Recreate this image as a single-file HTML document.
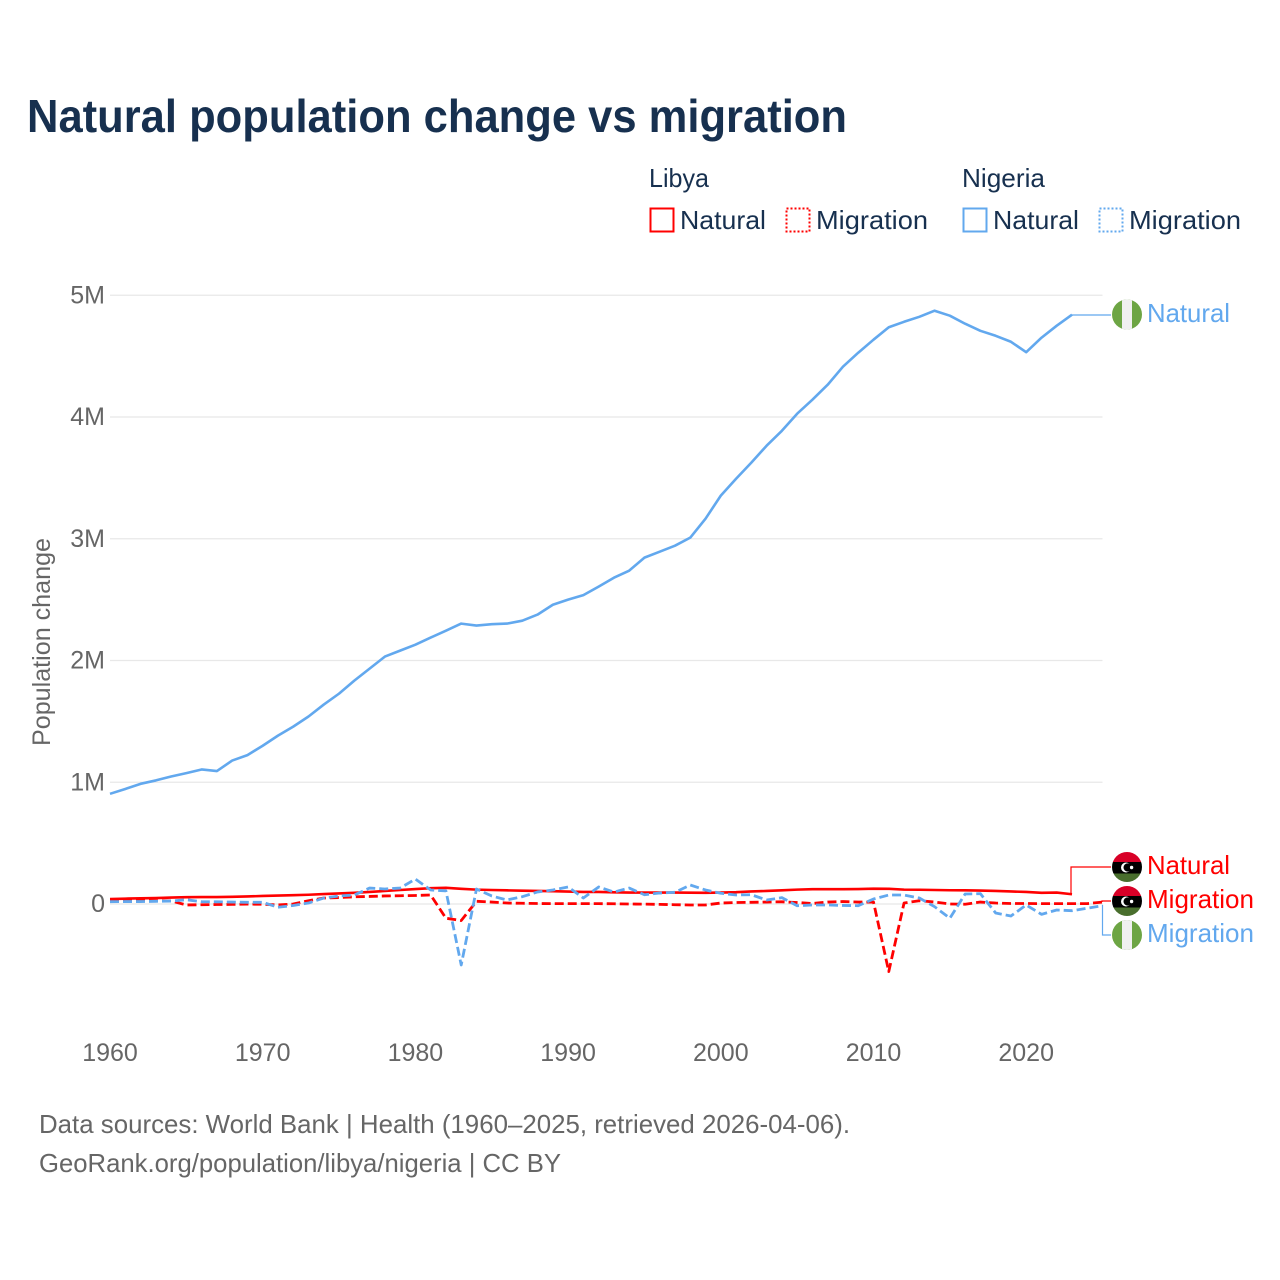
<!DOCTYPE html>
<html lang="en">
<head>
<meta charset="utf-8">
<title>Natural population change vs migration</title>
<style>
html,body{margin:0;padding:0;background:#fff;}
svg{display:block;}
text{font-family:"Liberation Sans",sans-serif;}
</style>
</head>
<body>
<svg id="chart" xmlns="http://www.w3.org/2000/svg" width="1280" height="1280" viewBox="0 0 1280 1280">
<defs>
<clipPath id="clip-a"><circle cx="1127" cy="314.5" r="15"/></clipPath>
<clipPath id="clip-b"><circle cx="1127" cy="867" r="15"/></clipPath>
<clipPath id="clip-c"><circle cx="1127" cy="901" r="15"/></clipPath>
<clipPath id="clip-d"><circle cx="1127" cy="935" r="15"/></clipPath>
</defs>
<rect width="1280" height="1280" fill="#fff"/>
<text x="27" y="132" font-size="46" font-weight="700" fill="#17304f" textLength="820" lengthAdjust="spacingAndGlyphs">Natural population change vs migration</text>

<g font-size="26" fill="#17304f">
<text x="649" y="187" textLength="60" lengthAdjust="spacingAndGlyphs">Libya</text>
<text x="962" y="187" textLength="83" lengthAdjust="spacingAndGlyphs">Nigeria</text>
<rect x="650.5" y="208.5" width="23" height="23" fill="none" stroke="#ff0000" stroke-width="2"/>
<text x="680" y="229" textLength="86" lengthAdjust="spacingAndGlyphs">Natural</text>
<rect x="786.5" y="208.5" width="23" height="23" fill="none" stroke="#ff0000" stroke-width="2" stroke-dasharray="2 2"/>
<text x="816" y="229" textLength="112" lengthAdjust="spacingAndGlyphs">Migration</text>
<rect x="963.5" y="208.5" width="23" height="23" fill="none" stroke="#62a8ee" stroke-width="2"/>
<text x="993" y="229" textLength="86" lengthAdjust="spacingAndGlyphs">Natural</text>
<rect x="1099.5" y="208.5" width="23" height="23" fill="none" stroke="#62a8ee" stroke-width="2" stroke-dasharray="2 2"/>
<text x="1129" y="229" textLength="112" lengthAdjust="spacingAndGlyphs">Migration</text>
</g>

<text transform="translate(50,642) rotate(-90)" text-anchor="middle" font-size="25" fill="#666" textLength="208" lengthAdjust="spacingAndGlyphs">Population change</text>

<g id="grid"></g>
<g id="ticks"></g>

<g fill="none" stroke-width="1.2">
<path d="M1071 315H1111" stroke="#62a8ee"/>
<path d="M1071 894V867H1111" stroke="#ff0000"/>
<path d="M1102 902V901H1111" stroke="#ff0000"/>
<path d="M1102.5 905V935H1111" stroke="#62a8ee"/>
</g>

<g id="series"></g>

<g clip-path="url(#clip-a)">
<rect x="1112" y="299" width="30" height="31" fill="#6da544"/><rect x="1122" y="299" width="10" height="31" fill="#f0f0f0"/>
</g>
<g clip-path="url(#clip-b)">
<rect x="1112" y="852" width="30" height="10" fill="#d80027"/><rect x="1112" y="862" width="30" height="11.5" fill="#000"/><rect x="1112" y="873.5" width="30" height="9.5" fill="#496e2d"/>
<circle cx="1126" cy="867.5" r="5" fill="#fff"/><circle cx="1127.6" cy="867.5" r="4.1" fill="#000"/><circle cx="1131.6" cy="867.5" r="1.7" fill="#fff"/>
</g>
<g clip-path="url(#clip-c)">
<rect x="1112" y="886" width="30" height="10" fill="#d80027"/><rect x="1112" y="896" width="30" height="11.5" fill="#000"/><rect x="1112" y="907.5" width="30" height="9.5" fill="#496e2d"/>
<circle cx="1126" cy="901.5" r="5" fill="#fff"/><circle cx="1127.6" cy="901.5" r="4.1" fill="#000"/><circle cx="1131.6" cy="901.5" r="1.7" fill="#fff"/>
</g>
<g clip-path="url(#clip-d)">
<rect x="1112" y="920" width="30" height="31" fill="#6da544"/><rect x="1122" y="920" width="10" height="31" fill="#f0f0f0"/>
</g>

<g font-size="26">
<text x="1147" y="322" fill="#62a8ee" textLength="83" lengthAdjust="spacingAndGlyphs">Natural</text>
<text x="1147" y="874" fill="#ff0000" textLength="83" lengthAdjust="spacingAndGlyphs">Natural</text>
<text x="1147" y="908" fill="#ff0000" textLength="107" lengthAdjust="spacingAndGlyphs">Migration</text>
<text x="1147" y="942" fill="#62a8ee" textLength="107" lengthAdjust="spacingAndGlyphs">Migration</text>
</g>

<g font-size="26" fill="#666">
<text x="39" y="1133" textLength="811" lengthAdjust="spacingAndGlyphs">Data sources: World Bank | Health (1960–2025, retrieved 2026-04-06).</text>
<text x="39" y="1172" textLength="522" lengthAdjust="spacingAndGlyphs">GeoRank.org/population/libya/nigeria | CC BY</text>
</g>
</svg>
<script>
var firstYear = 1960;
var xTickYears = [1960, 1970, 1980, 1990, 2000, 2010, 2020];
var yTickValues = [0, 1000, 2000, 3000, 4000, 5000];
var yTickLabels = ["0", "1M", "2M", "3M", "4M", "5M"];

// Values in thousands of people, one per year from 1960.
var nigeriaNatural = [905,945,987,1015,1047,1075,1105,1092,1178,1223,1300,1383,1457,1540,1638,1728,1835,1933,2032,2081,2130,2188,2245,2303,2287,2298,2303,2327,2377,2458,2500,2537,2607,2680,2738,2845,2894,2943,3009,3165,3354,3493,3625,3764,3887,4027,4142,4265,4413,4528,4635,4737,4782,4823,4873,4832,4766,4708,4667,4618,4532,4651,4750,4840];
var libyaNatural = [41,44,47,49,53,56,57,57,59,62,66,69,72,76,82,87,92,99,107,115,123,130,133,125,118,115,112,109,107,105,102,99,99,96,94,94,94,94,93,92,94,97,103,107,112,118,122,122,122,123,126,125,118,117,115,113,112,110,107,103,99,92,94,80];
var libyaMigration = [27,27,27,26,25,-8,-6,-4,-3,-1,-2,-8,0,27,49,53,59,62,66,68,70,74,-117,-136,22,16,8,6,4,3,3,3,3,2,0,-1,-3,-6,-8,-8,8,12,14,16,18,12,4,16,20,16,16,-555,8,27,16,0,-2,16,8,4,4,3,3,3,3,16];
var nigeriaMigration = [19,20,20,22,24,35,19,18,16,14,14,-27,-12,8,49,66,74,131,123,131,205,115,108,-501,123,66,33,60,99,115,140,49,140,98,131,76,90,96,156,115,88,74,76,33,52,-14,-8,-8,-12,-14,41,74,74,49,-22,-117,82,85,-74,-99,-8,-85,-49,-55,-35,-14];

var SVG_NS = "http://www.w3.org/2000/svg";
function xScale(year) { return 110 + (year - firstYear) * 15.27; }
function yScale(v) { return 904 - v * 0.12175; }

var gridLayer = document.getElementById("grid");
var tickLayer = document.getElementById("ticks");
var seriesLayer = document.getElementById("series");

yTickValues.forEach(function (v, i) {
  var line = document.createElementNS(SVG_NS, "line");
  line.setAttribute("x1", 110);
  line.setAttribute("x2", 1102.5);
  line.setAttribute("y1", yScale(v));
  line.setAttribute("y2", yScale(v));
  line.setAttribute("stroke", "#e8e8e8");
  line.setAttribute("stroke-width", 1.2);
  
  
  gridLayer.appendChild(line);

  var label = document.createElementNS(SVG_NS, "text");
  label.setAttribute("x", 105);
  label.setAttribute("y", yScale(v) + 8);
  label.setAttribute("text-anchor", "end");
  label.setAttribute("font-size", 25);
  label.setAttribute("fill", "#666");
  label.textContent = yTickLabels[i];
  
  
  tickLayer.appendChild(label);
});

xTickYears.forEach(function (year) {
  var label = document.createElementNS(SVG_NS, "text");
  label.setAttribute("x", xScale(year));
  label.setAttribute("y", 1061);
  label.setAttribute("text-anchor", "middle");
  label.setAttribute("font-size", 25);
  label.setAttribute("fill", "#666");
  label.textContent = String(year);
  
  
  tickLayer.appendChild(label);
});

function drawSeries(values, color, dash, name) {
  var d = values.map(function (v, i) {
    return (i ? "L" : "M") + xScale(firstYear + i).toFixed(2) + " " + yScale(v).toFixed(2);
  }).join("");
  var path = document.createElementNS(SVG_NS, "path");
  path.setAttribute("d", d);
  path.setAttribute("fill", "none");
  path.setAttribute("stroke", color);
  path.setAttribute("stroke-width", dash ? 2.8 : 2.6);
  path.setAttribute("stroke-linejoin", "round");
  if (dash) path.setAttribute("stroke-dasharray", dash);
  
  
  seriesLayer.appendChild(path);
}

drawSeries(nigeriaNatural, "#62a8ee", null, "line-nigeria-natural");
drawSeries(libyaNatural, "#ff0000", null, "line-libya-natural");
drawSeries(libyaMigration, "#ff0000", "9 4", "line-libya-migration");
drawSeries(nigeriaMigration, "#62a8ee", "9 4", "line-nigeria-migration");
</script>
</body>
</html>
